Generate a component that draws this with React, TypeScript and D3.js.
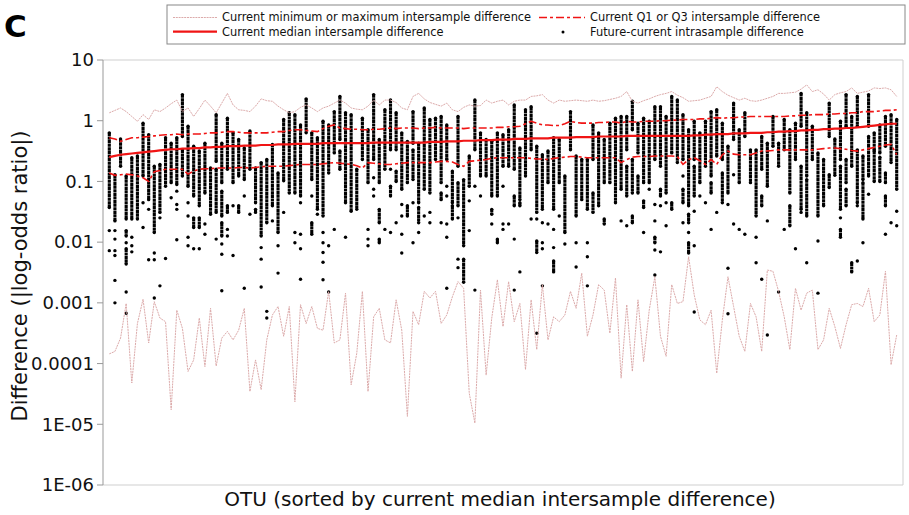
import React from "react"
import * as d3 from "d3"

// all series are log10 of the difference, one value per OTU
const maxLog10 = [
  0.13, 0.17, 0.21, 0.15, 0.07, -0.01, 0.10, 0.02, 0.18, 0.15,
  0.21, 0.28, 0.34, 0.15, 0.21, 0.07, 0.20, 0.34, 0.24, 0.13,
  0.29, 0.45, 0.26, 0.18, 0.17, 0.15, 0.24, 0.36, 0.33, 0.32,
  0.24, 0.18, 0.13, 0.15, 0.22, 0.26, 0.21, 0.15, 0.21, 0.24,
  0.29, 0.34, 0.29, 0.21, 0.19, 0.18, 0.24, 0.34, 0.26, 0.34,
  0.34, 0.30, 0.21, 0.18, 0.40, 0.45, 0.36, 0.30, 0.27, 0.24,
  0.29, 0.18, 0.15, 0.22, 0.26, 0.24, 0.25, 0.34, 0.29, 0.32,
  0.34, 0.26, 0.32, 0.34, 0.34, 0.40, 0.41, 0.43, 0.34, 0.29,
  0.34, 0.32, 0.33, 0.34, 0.33, 0.32, 0.34, 0.32, 0.33, 0.35,
  0.37, 0.40, 0.48, 0.32, 0.29, 0.33, 0.36, 0.40, 0.43, 0.45,
  0.48, 0.42, 0.38, 0.32, 0.33, 0.34, 0.37, 0.40, 0.56, 0.48,
  0.42, 0.38, 0.34, 0.37, 0.33, 0.32, 0.34, 0.37, 0.40, 0.45,
  0.45, 0.46, 0.47, 0.52, 0.59, 0.48, 0.51, 0.44, 0.34, 0.43,
  0.46, 0.48, 0.54, 0.45, 0.47, 0.49, 0.54, 0.53, 0.54, 0.51,
  0.40,
]

const q3Log10 = [
  -0.28, -0.30, -0.34, -0.31, -0.28, -0.28, -0.27, -0.26, -0.25, -0.24,
  -0.23, -0.23, -0.22, -0.23, -0.22, -0.22, -0.22, -0.21, -0.20, -0.20,
  -0.19, -0.18, -0.18, -0.19, -0.20, -0.20, -0.20, -0.20, -0.20, -0.19,
  -0.18, -0.18, -0.16, -0.15, -0.15, -0.16, -0.17, -0.18, -0.13, -0.09,
  -0.07, -0.12, -0.13, -0.14, -0.14, -0.15, -0.15, -0.14, -0.14, -0.13,
  -0.12, -0.13, -0.12, -0.12, -0.12, -0.13, -0.12, -0.12, -0.11, -0.12,
  -0.12, -0.12, -0.12, -0.13, -0.12, -0.12, -0.12, -0.12, -0.12, -0.11,
  -0.11, -0.10, -0.10, -0.09, -0.05, -0.01, -0.04, -0.07, -0.07, -0.08,
  -0.08, -0.05, -0.01, -0.03, -0.04, -0.04, -0.04, -0.03, -0.03, -0.02,
  -0.02, -0.04, -0.01, -0.02, -0.02, -0.01, -0.01, -0.01, 0.00, 0.00,
  0.01, 0.01, 0.02, 0.02, 0.02, 0.03, 0.03, 0.04, 0.05, 0.04,
  0.05, 0.05, 0.06, 0.06, 0.07, 0.07, 0.07, 0.07, 0.07, 0.07,
  0.07, 0.08, 0.08, 0.09, 0.09, 0.10, 0.10, 0.10, 0.11, 0.11,
  0.12, 0.12, 0.13, 0.13, 0.15, 0.15, 0.15, 0.16, 0.17, 0.17,
  0.18,
]

const medianLog10 = [
  -0.60, -0.58, -0.56, -0.55, -0.54, -0.53, -0.52, -0.51, -0.50, -0.49,
  -0.48, -0.47, -0.47, -0.46, -0.46, -0.45, -0.45, -0.44, -0.44, -0.43,
  -0.43, -0.42, -0.42, -0.42, -0.41, -0.41, -0.41, -0.40, -0.40, -0.40,
  -0.39, -0.39, -0.39, -0.38, -0.38, -0.38, -0.38, -0.38, -0.37, -0.37,
  -0.37, -0.37, -0.37, -0.37, -0.37, -0.37, -0.37, -0.36, -0.36, -0.36,
  -0.36, -0.36, -0.36, -0.36, -0.36, -0.36, -0.36, -0.35, -0.35, -0.35,
  -0.34, -0.34, -0.34, -0.33, -0.33, -0.33, -0.32, -0.32, -0.32, -0.31,
  -0.31, -0.31, -0.30, -0.30, -0.30, -0.29, -0.29, -0.29, -0.29, -0.28,
  -0.28, -0.28, -0.28, -0.27, -0.27, -0.27, -0.27, -0.26, -0.26, -0.26,
  -0.26, -0.26, -0.25, -0.25, -0.25, -0.25, -0.25, -0.25, -0.25, -0.25,
  -0.25, -0.25, -0.25, -0.25, -0.24, -0.24, -0.23, -0.23, -0.22, -0.22,
  -0.22, -0.21, -0.21, -0.21, -0.20, -0.20, -0.20, -0.19, -0.19, -0.18,
  -0.18, -0.17, -0.17, -0.16, -0.16, -0.15, -0.15, -0.14, -0.14, -0.13,
  -0.13, -0.12, -0.12, -0.11, -0.10, -0.09, -0.08, -0.07, -0.06, -0.05,
  -0.05,
]

const q1Log10 = [
  -0.86, -0.90, -0.89, -0.88, -0.89, -0.91, -0.94, -1.00, -0.84, -0.82,
  -0.80, -0.80, -0.80, -0.80, -0.88, -0.83, -0.80, -0.79, -0.79, -0.78,
  -0.78, -0.78, -0.78, -0.77, -0.77, -0.78, -0.77, -0.76, -0.75, -0.75,
  -0.75, -0.75, -0.74, -0.73, -0.72, -0.72, -0.72, -0.72, -0.71, -0.70,
  -0.69, -0.70, -0.71, -0.72, -0.74, -0.78, -0.69, -0.70, -0.71, -0.72,
  -0.72, -0.71, -0.70, -0.69, -0.69, -0.69, -0.69, -0.69, -0.68, -0.67,
  -0.67, -0.68, -0.72, -0.75, -0.67, -0.66, -0.65, -0.64, -0.62, -0.61,
  -0.61, -0.61, -0.61, -0.61, -0.61, -0.62, -0.63, -0.63, -0.64, -0.62,
  -0.61, -0.60, -0.59, -0.59, -0.60, -0.61, -0.61, -0.61, -0.61, -0.61,
  -0.61, -0.69, -0.64, -0.60, -0.59, -0.59, -0.59, -0.58, -0.58, -0.58,
  -0.58, -0.59, -0.72, -0.64, -0.61, -0.66, -0.72, -0.64, -0.72, -0.56,
  -0.50, -0.55, -0.56, -0.56, -0.56, -0.53, -0.50, -0.50, -0.49, -0.48,
  -0.48, -0.48, -0.48, -0.48, -0.48, -0.48, -0.47, -0.46, -0.45, -0.45,
  -0.46, -0.47, -0.49, -0.50, -0.48, -0.46, -0.44, -0.42, -0.40, -0.39,
  -0.56,
]

const minLog10 = [
  -3.84, -3.80, -3.58, -3.01, -4.32, -3.34, -2.94, -3.66, -2.98, -3.25,
  -3.31, -4.76, -3.12, -3.42, -4.13, -3.94, -3.25, -4.05, -3.09, -4.04,
  -3.58, -3.47, -3.61, -3.45, -3.09, -4.46, -3.94, -4.43, -3.61, -3.20,
  -3.06, -3.55, -3.06, -4.63, -3.03, -3.34, -3.06, -3.42, -3.45, -2.81,
  -3.66, -3.61, -2.84, -4.35, -3.83, -2.81, -4.46, -3.23, -3.09, -3.61,
  -3.66, -2.95, -3.45, -4.87, -3.14, -3.36, -2.81, -2.92, -2.81, -3.34,
  -3.20, -2.90, -2.65, -2.76, -4.49, -4.98, -2.79, -4.19, -3.25, -2.62,
  -3.39, -2.65, -3.31, -3.01, -4.10, -2.95, -3.77, -2.70, -3.61, -3.23,
  -3.31, -3.20, -2.81, -3.09, -2.51, -3.55, -3.20, -2.70, -2.79, -3.50,
  -2.59, -4.24, -3.03, -4.13, -2.95, -3.97, -3.12, -2.57, -3.55, -3.88,
  -2.70, -3.01, -2.98, -2.24, -2.87, -3.28, -3.36, -3.12, -4.16, -3.28,
  -2.57, -3.06, -3.55, -3.80, -3.01, -3.23, -3.80, -2.46, -2.48, -2.81,
  -3.23, -3.77, -2.76, -3.12, -2.84, -2.79, -3.77, -3.61, -3.09, -3.39,
  -3.75, -3.36, -3.03, -3.01, -3.06, -2.76, -3.31, -3.20, -2.48, -4.02,
  -3.53,
]

// future-current dots per OTU: [top, bottom] runs of stacked dots, or [v] for a single dot
const dotRuns: number[][][] = [
  [[-0.20, -1.43], [-1.81], [-2.14]],
  [[-0.89, -1.65], [-1.81], [-1.95], [-2.14], [-2.22], [-2.63], [-3.0]],
  [[-0.30, -0.75]],
  [[-0.91, -1.62], [-1.81, -1.90], [-2.01], [-2.11, -2.36], [-2.82], [-3.17]],
  [[-0.61, -1.62], [-1.92], [-2.06], [-2.16]],
  [[-0.58, -1.62]],
  [[-0.04, -0.91], [-1.35], [-1.76]],
  [[-0.23, -1.30], [-1.46], [-2.29]],
  [[-0.75, -1.84], [-2.18], [-2.29], [-2.92]],
  [[-0.72, -1.51], [-1.60], [-2.72]],
  [[-0.28, -1.08], [-2.27]],
  [[-0.37, -1.02], [-1.27]],
  [[-0.28, -1.05], [-1.16], [-1.38], [-1.46], [-1.96]],
  [[0.43, -0.26], [-0.48, -0.91]],
  [[-0.09, -1.08], [-1.35], [-1.57], [-1.92], [-2.06]],
  [[-0.42, -1.24], [-1.60, -1.76], [-2.11]],
  [[-0.50, -1.40], [-1.60, -1.76], [-2.11]],
  [[-0.37, -1.19], [-1.70], [-1.87]],
  [[-0.78, -1.54]],
  [[0.10, -0.67], [-0.80, -1.51], [-1.95]],
  [[-0.37, -1.02], [-1.16, -1.57], [-1.68, -1.90], [-2.03], [-2.20], [-2.80]],
  [[0.04, -0.80], [-1.40, -1.51], [-1.79], [-1.90]],
  [[-0.20, -1.02], [-1.40], [-2.22]],
  [[-0.31, -0.91], [-1.40, -1.51]],
  [[-0.45, -0.97], [-1.24], [-2.76]],
  [[-0.17, -0.80], [-1.54]],
  [[-0.78, -1.35], [-1.46, -1.51]],
  [[-0.69, -1.90], [-2.09], [-2.28], [-2.74]],
  [[-0.64, -1.68], [-3.14], [-3.25]],
  [[-0.39, -1.40], [-1.65]],
  [[-0.86, -1.84], [-2.06], [-2.51]],
  [[0.02, -0.99], [-1.51]],
  [[0.13, -1.19]],
  [[0.10, -1.19], [-1.84], [-2.01]],
  [[-0.07, -1.24], [-1.35], [-1.87], [-2.11], [-2.61]],
  [[0.36, -0.20]],
  [[-0.20, -0.97], [-1.24], [-1.68, -1.87]],
  [[-0.28, -1.46], [-1.54]],
  [[-0.01, -1.57], [-1.84], [-2.01], [-2.17], [-2.33], [-2.62]],
  [[-0.07, -0.86], [-2.06], [-2.82]],
  [[0.15, -0.53], [-1.79]],
  [[0.40, -0.31], [-0.50, -0.80]],
  [[0.13, -1.35], [-1.92]],
  [[0.10, -1.49]],
  [[-0.80, -1.46]],
  [[0.04, -0.64]],
  [[-0.15, -1.02], [-1.79], [-1.95], [-2.06]],
  [[0.43, -0.64], [-0.94], [-1.13], [-1.24]],
  [[-0.31, -1.02], [-1.46, -1.68], [-1.95, -2.01]],
  [[0.18, -0.80], [-1.79]],
  [[0.34, -0.48], [-0.80], [-1.08, -1.24], [-1.84]],
  [[0.13, -0.48], [-0.83, -1.00], [-1.68]],
  [[-0.20, -1.13], [-1.38], [-1.57], [-1.87], [-2.18]],
  [[-0.34, -1.02], [-1.40, -1.57]],
  [[0.15, -0.37], [-0.48, -0.97], [-1.35], [-2.01]],
  [[-0.37, -1.35], [-1.43, -1.68], [-1.84]],
  [[0.21, -1.13], [-1.57]],
  [[0.02, -1.19], [-1.51], [-1.68]],
  [[0.04, -0.64]],
  [[0.07, -1.02], [-1.19, -1.30], [-1.68]],
  [[-0.07, -0.64], [-1.08], [-1.24], [-1.70], [-1.92], [-2.76]],
  [[-0.83, -1.35], [-1.40, -1.62]],
  [[0.07, -0.75], [-1.02, -1.40], [-1.60], [-2.28], [-2.42]],
  [[-0.97, -2.06], [-2.28, -2.66]],
  [[-0.58, -1.08], [-1.32], [-1.81]],
  [[0.34, -0.48], [-1.08], [-2.79]],
  [[-0.20, -0.91], [-1.24]],
  [[-0.31, -0.91]],
  [[-0.34, -1.24], [-1.46, -1.54], [-1.70]],
  [[-0.20, -1.24], [-1.95, -2.01]],
  [[-0.23, -0.75], [-1.08], [-1.70], [-1.79]],
  [[-0.15, -0.75], [-1.70]],
  [[0.26, -0.80], [-1.24, -1.40], [-1.95], [-2.79]],
  [[-0.45, -1.30], [-1.35, -1.40], [-2.49]],
  [[0.18, -0.91]],
  [[0.23, -0.48], [-1.62]],
  [[-0.42, -1.51], [-1.62], [-1.98, -2.17], [-3.50]],
  [[-0.56, -1.46], [-1.68], [-2.01], [-2.11], [-2.72]],
  [[-0.50, -1.02], [-1.70]],
  [[-0.28, -1.46], [-1.79], [-2.09], [-2.31, -2.49]],
  [[-0.31, -1.02], [-1.57]],
  [[-0.91, -1.84], [-2.03]],
  [[0.15, -0.48]],
  [[-0.58, -1.57], [-2.01], [-2.41]],
  [[-0.64, -1.30]],
  [[-0.64, -1.46], [-2.01], [-2.24], [-2.72]],
  [[-0.07, -0.64], [-1.19, -1.51]],
  [[-0.20, -1.40]],
  [[-0.31, -1.02], [-1.62, -1.70]],
  [[-0.04, -1.02]],
  [[0.04, -1.35]],
  [[0.07, -1.13], [-1.65]],
  [[0.07, -0.48], [-0.75, -1.24], [-1.73]],
  [[0.32, -0.15], [-0.64, -1.19], [-1.57, -1.68]],
  [[-0.04, -0.53], [-0.91, -1.19]],
  [[0.04, -1.02], [-1.32, -1.43], [-1.84]],
  [[-0.01, -1.02], [-1.13]],
  [[0.23, -0.64], [-1.38], [-1.65], [-1.92, -2.01], [-2.13], [-2.54]],
  [[0.23, -0.75], [-1.13, -1.24], [-1.40], [-2.16]],
  [[0.07, -1.19], [-1.35], [-1.73]],
  [[0.40, -0.53], [-1.35, -1.46]],
  [[0.34, -0.69]],
  [[0.10, -0.64], [-0.91], [-1.13, -1.35], [-1.68]],
  [[-0.15, -1.40], [-1.54, -1.68], [-1.84], [-2.01, -2.18]],
  [[-0.01, -0.64], [-0.75, -1.24], [-1.49], [-2.06], [-3.15]],
  [[-0.20, -1.02], [-1.24]],
  [[-0.01, -0.75], [-1.35]],
  [[0.15, -0.91], [-1.02, -1.19], [-1.79]],
  [[0.18, -0.58], [-1.51]],
  [[-0.04, -0.64], [-0.86, -1.35]],
  [[-0.42, -1.19], [-1.38], [-2.43], [-3.18]],
  [[0.29, -0.31], [-0.89], [-1.70]],
  [[-0.15, -1.02], [-1.79]],
  [[0.13, -0.26], [-1.87]],
  [[-0.48, -1.02]],
  [[-0.48, -1.57], [-1.92], [-2.34]],
  [[-0.26, -0.80], [-1.24, -1.40], [-2.61]],
  [[-0.37, -1.08], [-1.65], [-3.53]],
  [[0.07, -0.42]],
  [[-0.37, -0.75], [-2.82]],
  [[0.02, -0.48], [-1.79]],
  [[-0.15, -1.19], [-1.40, -1.73]],
  [[-0.04, -0.64], [-2.11]],
  [[0.45, -0.09], [-0.75, -1.46], [-1.51]],
  [[0.13, -0.91], [-0.97, -1.57], [-2.34]],
  [[-0.09, -0.64]],
  [[-0.53, -1.57], [-1.98], [-2.84]],
  [[-0.64, -1.40]],
  [[0.29, -0.26], [-0.89, -1.10]],
  [[-0.30, -0.90]],
  [[-0.01, -0.64], [-0.75, -1.46], [-1.60], [-1.79, -1.92]],
  [[0.43, -0.09], [-0.64, -1.02], [-1.13, -1.40]],
  [[0.07, -0.75], [-2.34, -2.49]],
  [[0.40, -0.09], [-0.48, -1.35], [-1.40], [-2.31]],
  [[-0.58, -0.97], [-1.02, -1.62], [-2.01]],
  [[0.43, -0.09], [-0.26, -0.91], [-1.21]],
  [[-0.20, -0.48], [-0.50, -1.00]],
  [[-0.07, -0.53], [-0.60, -1.00]],
  [[0.07, -0.42], [-0.86, -1.02], [-1.24, -1.40], [-1.87]],
  [[0.10, -0.69], [-1.68]],
  [[0.02, -1.13], [-1.49], [-1.73]],
]

const tickValues = [10, 1, 0.1, 0.01, 0.001, 0.0001, 1e-5, 1e-6]
const tickLabels = ["10", "1", "0.1", "0.01", "0.001", "0.0001", "1E-05", "1E-06"]

const font = "DejaVu Sans, sans-serif"
const pink = "#dcaaaa"
const red = "#f01414"

export default function App() {
  const left = 103
  const right = 903
  const top = 60
  const bottom = 485
  const n = medianLog10.length

  const x = d3.scaleLinear().domain([0, n - 1]).range([left + 6.3, right - 6.3])
  const y = d3.scaleLog().domain([1e-6, 10]).range([bottom, top])
  const yl = (v: number) => y(Math.pow(10, v))

  const line = d3
    .line<number>()
    .x((d, i) => x(i))
    .y(d => yl(d))

  return (
    <svg
      width={909}
      height={515}
      style={{ position: "absolute", left: 0, top: 0, background: "#fff" }}
      fontFamily={font}
    >
      <text x={4} y={37} fontSize={31} fontWeight="bold">C</text>

      {/* frame */}
      <line x1={left} x2={right} y1={top} y2={top} stroke="#cfcfcf" />
      <line x1={right} x2={right} y1={top} y2={bottom} stroke="#cfcfcf" />
      <line x1={left} x2={right} y1={bottom} y2={bottom} stroke="#cfcfcf" />
      <line x1={left} x2={left} y1={top} y2={bottom} stroke="#999" />
      {tickValues.map((t, i) => (
        <g key={i}>
          <line x1={left - 6} x2={left} y1={y(t)} y2={y(t)} stroke="#999" />
          <text x={left - 9} y={y(t)} dy="0.35em" textAnchor="end" fontSize={18} fill="#111">
            {tickLabels[i]}
          </text>
        </g>
      ))}

      {/* dots */}
      <g>
        {dotRuns.map((runs, i) =>
          runs.map((r, j) =>
            r.length === 1 ? (
              <circle key={i + "-" + j} cx={x(i)} cy={yl(r[0])} r={1.7} fill="#000" />
            ) : (
              <g key={i + "-" + j}>
                <line
                  x1={x(i)}
                  x2={x(i)}
                  y1={yl(r[0])}
                  y2={yl(r[1])}
                  stroke="#000"
                  strokeWidth={3.1}
                  strokeDasharray="3.2,0.4"
                />
                <circle cx={x(i)} cy={yl(r[0])} r={1.7} fill="#000" />
                <circle cx={x(i)} cy={yl(r[1])} r={1.7} fill="#000" />
              </g>
            )
          )
        )}
      </g>

      {/* lines */}
      <path d={line(maxLog10) || ""} fill="none" stroke={pink} strokeWidth={1} strokeDasharray="2,0.8" />
      <path d={line(minLog10) || ""} fill="none" stroke={pink} strokeWidth={1} strokeDasharray="2,0.8" />
      <path d={line(q3Log10) || ""} fill="none" stroke={red} strokeWidth={1.6} strokeDasharray="8,3,3,3" />
      <path d={line(q1Log10) || ""} fill="none" stroke={red} strokeWidth={1.6} strokeDasharray="8,3,3,3" />
      <path d={line(medianLog10) || ""} fill="none" stroke={red} strokeWidth={2.2} />

      {/* axis titles */}
      <text x={500} y={506} textAnchor="middle" fontSize={20} fill="#111">
        OTU (sorted by current median intersample difference)
      </text>
      <text transform="translate(27,276) rotate(-90)" textAnchor="middle" fontSize={21} fill="#111">
        Difference (|log-odds ratio|)
      </text>

      {/* legend */}
      <g fontSize={11.4} fill="#111">
        <rect x={167} y={5} width={738} height={39} fill="#fff" stroke="#888" />
        <line x1={173} x2={217} y1={17.5} y2={17.5} stroke={pink} strokeWidth={1} strokeDasharray="2,0.8" />
        <text x={222} y={17.5} dy="0.35em">Current minimum or maximum intersample difference</text>
        <line x1={539} x2={585} y1={17.5} y2={17.5} stroke={red} strokeWidth={1.6} strokeDasharray="8,3,3,3" />
        <text x={590} y={17.5} dy="0.35em">Current Q1 or Q3 intersample difference</text>
        <line x1={173} x2={217} y1={31.7} y2={31.7} stroke={red} strokeWidth={2.2} />
        <text x={222} y={31.7} dy="0.35em">Current median intersample difference</text>
        <circle cx={563} cy={32} r={1.5} fill="#000" />
        <text x={590} y={31.7} dy="0.35em">Future-current intrasample difference</text>
      </g>
    </svg>
  )
}
